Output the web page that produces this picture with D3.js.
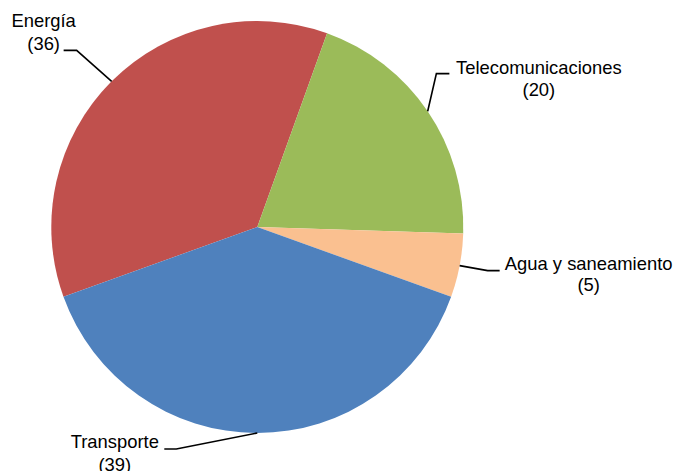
<!DOCTYPE html>
<html lang="es">
<head>
<meta charset="utf-8">
<script src="https://cdn.jsdelivr.net/npm/d3@7"></script>
<style>
  html, body { margin: 0; padding: 0; background: #ffffff; }
  svg { display: block; }
  text { font-family: "Liberation Sans", Arial, sans-serif; font-size: 18.4px; fill: #000; }
</style>
</head>
<body>
<svg id="chart" width="677" height="471"></svg>
<script>
// Sectores de infraestructura (número de proyectos)
const categories = ["Energía", "Telecomunicaciones", "Agua y saneamiento", "Transporte"];
const values = [36, 20, 5, 39];
const colors = ["#C0504D", "#9BBB59", "#FAC090", "#4F81BD"];

// Geometría del gráfico
const width = 677, height = 471;
const cx = 257.3, cy = 227, radius = 206;
const startDeg = -109.8; // el primer sector arranca aquí (grados, sentido horario desde arriba)

// Colocación de etiquetas: codo relativo al borde del sector, tramo horizontal,
// y posición del texto relativa al extremo de la línea guía
const labelLayout = [
  { elbow: [-35, -31], tail: -13, text: [-20, -23], lineGap: 22.5 },
  { elbow: [8.7, -37.6], tail: 13, text: [89.5, 0.3], lineGap: 22.5 },
  { elbow: [28, 5], tail: 12, text: [89, -0.7], lineGap: 21.5 },
  { elbow: [-81, 16], tail: -12, text: [-49.5, -1], lineGap: 22.5 }
];

const data = categories.map((c, i) => ({ name: c, value: values[i], color: colors[i], layout: labelLayout[i] }));

const svg = d3.select("#chart");
const g = svg.append("g").attr("transform", `translate(${cx},${cy})`);

const start = startDeg * Math.PI / 180;
const pie = d3.pie().sort(null).value(d => d.value)
  .startAngle(start).endAngle(start + 2 * Math.PI);
const arc = d3.arc().innerRadius(0).outerRadius(radius);

const arcs = pie(data);

g.selectAll("path.slice")
  .data(arcs)
  .join("path")
  .attr("class", "slice")
  .attr("d", arc)
  .attr("fill", d => d.data.color);

// Líneas guía y etiquetas
arcs.forEach(d => {
  const mid = (d.startAngle + d.endAngle) / 2;
  const p = [Math.sin(mid) * radius, -Math.cos(mid) * radius];
  const L = d.data.layout;
  const elbow = [p[0] + L.elbow[0], p[1] + L.elbow[1]];
  const end = [elbow[0] + L.tail, elbow[1]];

  g.append("path")
    .attr("d", d3.line()([p, elbow, end]))
    .attr("fill", "none")
    .attr("stroke", "#000")
    .attr("stroke-width", 1.6);

  const t = g.append("text")
    .attr("text-anchor", "middle")
    .attr("x", end[0] + L.text[0])
    .attr("y", end[1] + L.text[1]);
  t.append("tspan")
    .attr("x", end[0] + L.text[0])
    .text(d.data.name);
  t.append("tspan")
    .attr("x", end[0] + L.text[0])
    .attr("dy", L.lineGap)
    .text(`(${d.data.value})`);
});
</script>
</body>
</html>
